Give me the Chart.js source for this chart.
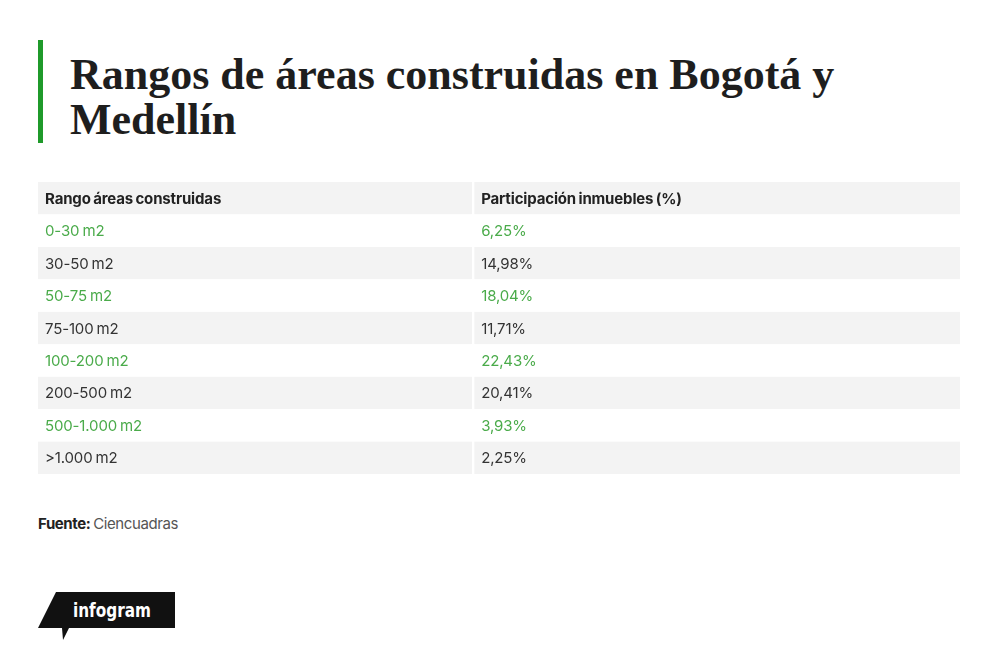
<!DOCTYPE html>
<html lang="es">
<head>
    <meta charset="UTF-8">
    <title>Rangos de áreas construidas en Bogotá y Medellín</title>
    <script src="https://cdn.jsdelivr.net/npm/chart.js"></script>
    <style>
        body { margin: 0; background: #fff; width: 1000px; height: 661px; position: relative; overflow: hidden; }
        .bar { position: absolute; left: 38px; top: 40px; width: 5px; height: 103px; background: #1f9a2a; }
        h1 { position: absolute; left: 70px; top: 52px; margin: 0; width: 900px;
             font-family: "Liberation Serif", serif; font-weight: bold; font-size: 44px; line-height: 45px; color: #1e1e1e; }
        .table-box { position: absolute; left: 38px; top: 182px; width: 922px; height: 292px; }
        .source { position: absolute; left: 38px; top: 514px; font-family: Inter, sans-serif; font-size: 15px;
                  letter-spacing: -0.4px; word-spacing: -1px; color: #555; }
        .source b { color: #222; }
        .logo { position: absolute; left: 38px; top: 592px; }
    </style>
</head>
<body>

<div class="bar"></div>
<h1>Rangos de áreas construidas en Bogotá y Medellín</h1>
<div class="table-box">
    <canvas id="tableChart"></canvas>
</div>
<div class="source"><b>Fuente:</b> Ciencuadras</div>
<svg class="logo" width="140" height="50" viewBox="0 0 140 50">
    <polygon points="18,0 137,0 137,36 31,36 25,48 24,36 0,36" fill="#111"/>
    <text x="35" y="25" fill="#fff" font-family="DejaVu Sans Condensed, sans-serif" font-weight="bold" font-size="20"
          textLength="78" lengthAdjust="spacingAndGlyphs">infogram</text>
</svg>

<script>
    // table content
    const headers = ["Rango áreas construidas", "Participación inmuebles (%)"];
    const ranges = ["0-30 m2", "30-50 m2", "50-75 m2", "75-100 m2", "100-200 m2", "200-500 m2", "500-1.000 m2", ">1.000 m2"];
    const shares = [6.25, 14.98, 18.04, 11.71, 22.43, 20.41, 3.93, 2.25];

    const rows = [headers[0]].concat(ranges);
    const colSplit = 0.472; // first column takes ~47% of the width

    const rowFill = rows.map((r, i) => i % 2 === 0 ? "#f3f3f3" : "#ffffff");

    function fmtShare(v) {
        return v.toFixed(2).replace(".", ",") + "%";
    }

    // draws the text of every cell on top of the bars
    const cellText = {
        id: "cellText",
        afterDatasetsDraw(chart) {
            const c = chart.ctx;
            const xs = chart.scales.x, ys = chart.scales.y;
            const x1 = xs.getPixelForValue(0) + 7;
            const x2 = xs.getPixelForValue(colSplit) + 8;
            c.save();
            c.textBaseline = "middle";
            c.letterSpacing = "-0.15px";
            c.wordSpacing = "-1px";
            rows.forEach((label, i) => {
                const y = ys.getPixelForValue(i) + 1;
                let right;
                if (i === 0) {
                    c.font = "bold 15px Inter, sans-serif";
                    c.fillStyle = "#222";
                    right = headers[1];
                } else {
                    c.font = "15px Inter, sans-serif";
                    c.fillStyle = i % 2 === 1 ? "#4aab4a" : "#333";
                    right = fmtShare(shares[i - 1]);
                }
                c.fillText(label, x1, y);
                c.fillText(right, x2, y);
            });
            c.restore();
        }
    };

    new Chart(document.getElementById("tableChart"), {
        type: "bar",
        data: {
            labels: rows,
            datasets: [
                {
                    data: rows.map(() => [0, colSplit]),
                    backgroundColor: rowFill,
                    borderColor: "#fff",
                    borderWidth: { right: 1.5 },
                    borderSkipped: false
                },
                {
                    data: rows.map(() => [colSplit, 1]),
                    backgroundColor: rowFill,
                    borderColor: "#fff",
                    borderWidth: { left: 1.5 },
                    borderSkipped: false
                }
            ]
        },
        options: {
            indexAxis: "y",
            responsive: true,
            maintainAspectRatio: false,
            animation: false,
            layout: { padding: 0 },
            datasets: { bar: { grouped: false, barPercentage: 1, categoryPercentage: 1 } },
            scales: {
                x: { type: "linear", min: 0, max: 1, display: false },
                y: { display: false }
            },
            plugins: {
                legend: { display: false },
                tooltip: { enabled: false }
            }
        },
        plugins: [cellText]
    });
</script>

</body>
</html>
